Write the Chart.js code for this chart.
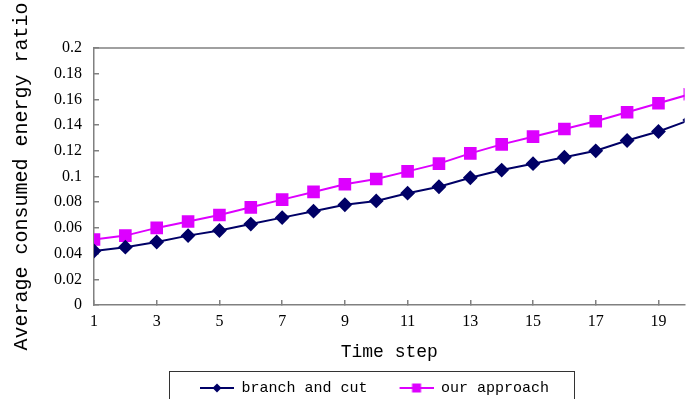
<!DOCTYPE html>
<html>
<head>
<meta charset="utf-8">
<script src="https://cdn.jsdelivr.net/npm/chart.js@4.4.1/dist/chart.umd.min.js"></script>
<style>
  html, body { margin: 0; padding: 0; background: #fff; overflow: hidden; }
  /* a little wider than the window: the plot runs off the right edge as in the original */
  #wrap { width: 694px; height: 399px; }
</style>
</head>
<body>
<div id="wrap"><canvas id="energyChart"></canvas></div>
<script>
const timeSteps = [1, 2, 3, 4, 5, 6, 7, 8, 9, 10, 11, 12, 13, 14, 15, 16, 17, 18, 19, 20];
const branchAndCut = [0.042, 0.045, 0.049, 0.054, 0.058, 0.063, 0.068, 0.073, 0.078, 0.081,
                      0.087, 0.092, 0.099, 0.105, 0.110, 0.115, 0.120, 0.128, 0.135, 0.144];
const ourApproach = [0.051, 0.054, 0.060, 0.065, 0.070, 0.076, 0.082, 0.088, 0.094, 0.098,
                     0.104, 0.110, 0.118, 0.125, 0.131, 0.137, 0.143, 0.150, 0.157, 0.164];
const xTickValues = [1, 3, 5, 7, 9, 11, 13, 15, 17, 19];

const navy = '#000066';
const magenta = '#dd00ff';

const SAMPLE_GAP = 22; // blank room left of each legend sample

// legend sample: short line with the marker in the middle
function legendSample(color, style) {
    const c = document.createElement('canvas');
    c.width = SAMPLE_GAP + 34;
    c.height = 14;
    const g = c.getContext('2d');
    const x0 = SAMPLE_GAP, mid = SAMPLE_GAP + 17;
    g.strokeStyle = color;
    g.lineWidth = 2;
    g.beginPath();
    g.moveTo(x0, 7);
    g.lineTo(x0 + 34, 7);
    g.stroke();
    g.fillStyle = color;
    g.beginPath();
    if (style === 'diamond') {
        g.moveTo(mid, 2.5); g.lineTo(mid + 4.5, 7); g.lineTo(mid, 11.5); g.lineTo(mid - 4.5, 7);
    } else {
        g.rect(mid - 4.5, 2.5, 9, 9);
    }
    g.fill();
    return c;
}

const frame = {
    id: 'frame',
    afterLayout(chart) {
        // legend sits a little right of the centre
        chart.legend.left += 16.5;
        chart.legend.right += 16.5;
    },
    afterDraw(chart) {
        const ctx = chart.ctx;
        const a = chart.chartArea;
        ctx.save();
        ctx.strokeStyle = '#808080';
        ctx.lineWidth = 1.5;
        ctx.beginPath();
        ctx.moveTo(a.left, a.top);
        ctx.lineTo(a.right, a.top);
        ctx.stroke();
        // box round the legend
        const boxes = chart.legend.legendHitBoxes;
        if (boxes.length) {
            const first = boxes[0];
            const last = boxes[boxes.length - 1];
            const left = Math.round(first.left + SAMPLE_GAP - 31) + 0.5;
            const right = Math.round(last.left + last.width + 25) + 0.5;
            ctx.strokeStyle = '#333';
            ctx.lineWidth = 1;
            ctx.strokeRect(left, Math.round(first.top - 9.5) + 0.5, right - left, 60);
        }
        ctx.restore();
    }
};

const ctx = document.getElementById('energyChart').getContext('2d');
new Chart(ctx, {
    type: 'line',
    data: {
        labels: timeSteps,
        datasets: [{
            label: 'branch and cut',
            data: timeSteps.map((t, i) => ({ x: t, y: branchAndCut[i] })),
            borderColor: navy,
            backgroundColor: navy,
            borderWidth: 2,
            pointStyle: 'rectRot',
            pointRadius: 6,
            pointHoverRadius: 6,
            fill: false
        }, {
            label: 'our approach',
            data: timeSteps.map((t, i) => ({ x: t, y: ourApproach[i] })),
            borderColor: magenta,
            backgroundColor: magenta,
            borderWidth: 2,
            pointStyle: 'rect',
            pointRadius: 7.5,
            pointHoverRadius: 7.5,
            fill: false
        }]
    },
    options: {
        responsive: true,
        maintainAspectRatio: false,
        animation: false,
        layout: { padding: { top: 48, right: 0, left: 0, bottom: -6.5 } },
        plugins: {
            tooltip: { enabled: false },
            legend: {
                position: 'bottom',
                labels: {
                    usePointStyle: true,
                    pointStyleWidth: SAMPLE_GAP + 34,
                    padding: 10,
                    color: '#000',
                    font: { family: 'Liberation Mono', size: 15 },
                    generateLabels(chart) {
                        return chart.data.datasets.map((ds, i) => ({
                            text: ds.label,
                            fontColor: '#000',
                            pointStyle: legendSample(ds.borderColor, i === 0 ? 'diamond' : 'square'),
                            lineWidth: 0,
                            datasetIndex: i
                        }));
                    }
                }
            }
        },
        scales: {
            x: {
                type: 'linear',
                min: 1,
                max: 19.83,
                afterBuildTicks: s => { s.ticks = xTickValues.map(v => ({ value: v })); },
                afterFit: s => { s.height = 65.5; s.paddingLeft = 0; s.paddingRight = 0; },
                grid: { drawOnChartArea: false, tickLength: -5, color: '#808080', lineWidth: 1.5 },
                border: { color: '#808080', width: 1.5 },
                ticks: {
                    padding: 12,
                    color: '#000',
                    maxRotation: 0,
                    font: { family: 'Liberation Serif', size: 16 }
                },
                title: {
                    display: true,
                    text: 'Time step',
                    color: '#000',
                    font: { family: 'Liberation Mono', size: 18 },
                    padding: { top: 0, bottom: 7.7 }
                }
            },
            y: {
                min: 0,
                max: 0.2,
                afterFit: s => { s.width = 94; },
                grid: { drawOnChartArea: false, tickLength: -5, color: '#808080', lineWidth: 1.5 },
                border: { color: '#808080', width: 1.5 },
                ticks: {
                    stepSize: 0.02,
                    padding: 17,
                    color: '#000',
                    font: { family: 'Liberation Serif', size: 16 },
                    callback: v => Math.round(v * 100) / 100
                },
                title: {
                    display: true,
                    text: 'Average consumed energy ratio',
                    color: '#000',
                    font: { family: 'Liberation Mono', size: 20 },
                    padding: { top: 10, bottom: 0 }
                }
            }
        }
    },
    plugins: [frame]
});
</script>
</body>
</html>
